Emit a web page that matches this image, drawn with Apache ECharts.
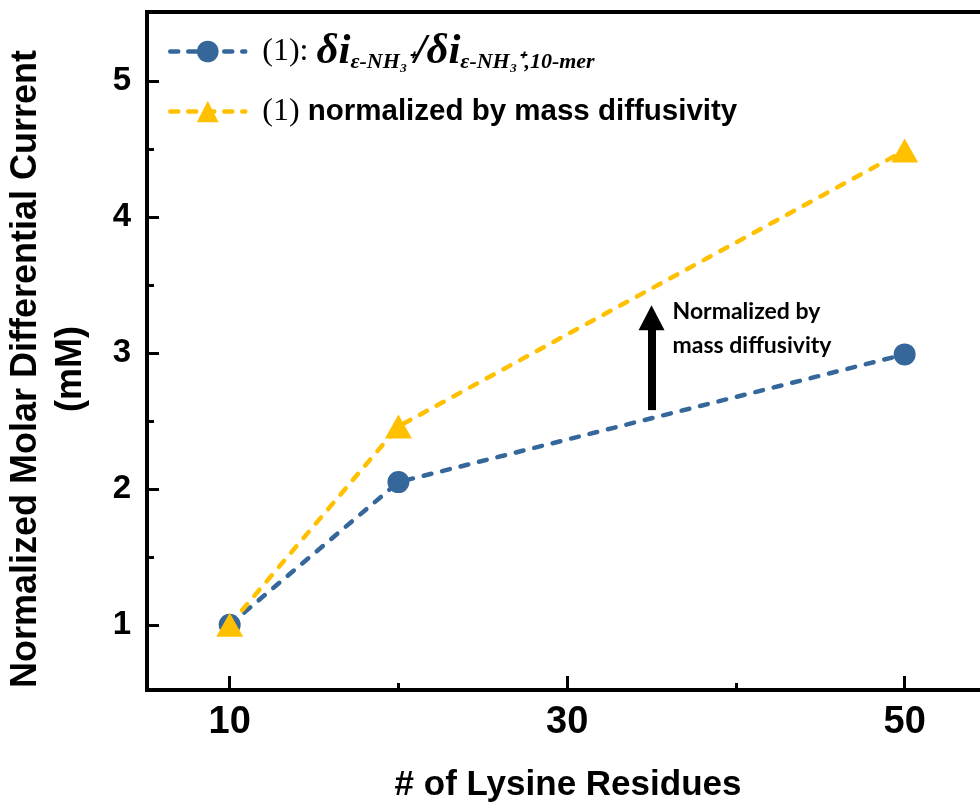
<!DOCTYPE html>
<html><head><meta charset="utf-8">
<script src="https://cdn.jsdelivr.net/npm/echarts@6/dist/echarts.min.js"></script>
<style>html,body{margin:0;padding:0;background:#fff}#c{width:980px;height:811px}</style>
</head><body><div id="c"></div>
<script>
// ---- data ----
const lysineResidues = [10, 20, 50];
const ratioValues = [1.0, 2.05, 2.99];
const normalizedValues = [1.0, 2.46, 4.49];
const xMajorTicks = [10, 30, 50];
const xMinorTicks = [20, 40];
const yMajorTicks = [1, 2, 3, 4, 5];
const yMinorTicks = [1.5, 2.5, 3.5, 4.5];
const seriesNames = ['(1): δi ε-NH3+ / δi ε-NH3+,10-mer', '(1) normalized by mass diffusivity'];
const xTitle = '# of Lysine Residues';
const yTitle = 'Normalized Molar Differential Current\n(mM)';
const arrowNote = 'Normalized by\nmass diffusivity';
const arrowX = 35, arrowFrom = 2.58, arrowTo = 3.26;

const BLUE = '#35679B', GOLD = '#FFC000';
const toPairs = (xs, ys) => xs.map((x, i) => [x, ys[i]]);

const chart = echarts.init(document.getElementById('c'), null, {renderer: 'canvas'});
const xr = {min: 5.1, max: 55};
const yr = {min: 0.52, max: 5.51};
const sans = '"Liberation Sans", Arial, sans-serif';
const serif = '"Liberation Serif", "Times New Roman", serif';

chart.setOption({
  animation: false,
  backgroundColor: '#fff',
  grid: {left: 147, top: 12, width: 842, height: 678, outerBoundsMode: 'none', containLabel: false,
    show: true, borderColor: '#000', borderWidth: 4, backgroundColor: 'transparent'},
  legend: {
    left: 168, top: 30, orient: 'vertical', padding: 0, itemGap: 22,
    itemWidth: 75, itemHeight: 27, selectedMode: false,
    lineStyle: {width: 4.5, type: [8, 10], cap: 'round'},
    data: seriesNames,
    formatter: function (name) {
      if (name === seriesNames[0]) return '{p|(1): }{d|δi}{s|ε-NH₃⁺}{d|/δi}{s|ε-NH₃⁺,10-mer}';
      return '{p|(1)}{b| normalized by mass diffusivity}';
    },
    textStyle: {
      color: '#000', padding: [0, 0, 0, 12],
      rich: {
        p: {fontFamily: serif, fontSize: 32, color: '#000', lineHeight: 44},
        d: {fontFamily: serif, fontSize: 43, fontStyle: 'italic', fontWeight: 'bold', color: '#000', lineHeight: 44},
        s: {fontFamily: serif, fontSize: 22, fontStyle: 'italic', fontWeight: 'bold', color: '#000', lineHeight: 18, verticalAlign: 'bottom'},
        b: {fontFamily: sans, fontSize: 29.5, fontWeight: 'bold', color: '#000', lineHeight: 36}
      }
    }
  },
  xAxis: [{
    type: 'value', min: xr.min, max: xr.max, position: 'bottom',
    axisLine: {show: true, onZero: false, lineStyle: {color: '#000', width: 4}},
    axisTick: {show: true, inside: true, length: 14, customValues: xMajorTicks, lineStyle: {color: '#000', width: 3}},
    axisLabel: {show: true, customValues: xMajorTicks, margin: 14, color: '#000', fontFamily: sans, fontWeight: 'bold', fontSize: 38},
    splitLine: {show: false},
    name: xTitle, nameLocation: 'middle', nameGap: 78,
    nameTextStyle: {color: '#000', fontFamily: sans, fontWeight: 'bold', fontSize: 35}
  }, {
    type: 'value', min: xr.min, max: xr.max, position: 'bottom', gridIndex: 0,
    axisLine: {show: false, onZero: false},
    axisTick: {show: true, inside: true, length: 7, customValues: xMinorTicks, lineStyle: {color: '#000', width: 3}},
    axisLabel: {show: false}, splitLine: {show: false}
  }],
  yAxis: [{
    type: 'value', min: yr.min, max: yr.max, position: 'left',
    axisLine: {show: true, onZero: false, lineStyle: {color: '#000', width: 4}},
    axisTick: {show: true, inside: true, length: 12, customValues: yMajorTicks, lineStyle: {color: '#000', width: 3}},
    axisLabel: {show: true, customValues: yMajorTicks, margin: 16, color: '#000', fontFamily: sans, fontWeight: 'bold', fontSize: 33},
    splitLine: {show: false}
  }, {
    type: 'value', min: yr.min, max: yr.max, position: 'left', gridIndex: 0,
    axisLine: {show: false, onZero: false},
    axisTick: {show: true, inside: true, length: 7, customValues: yMinorTicks, lineStyle: {color: '#000', width: 3}},
    axisLabel: {show: false}, splitLine: {show: false}
  }],
  series: [{
    name: seriesNames[0], type: 'line', xAxisIndex: 0, yAxisIndex: 0,
    data: toPairs(lysineResidues, ratioValues),
    symbol: 'circle', symbolSize: 22,
    itemStyle: {color: BLUE},
    lineStyle: {color: BLUE, width: 4.5, type: [8, 11], cap: 'round'},
    markLine: {
      silent: true, animation: false,
      symbol: ['none', 'triangle'], symbolSize: [26, 25],
      itemStyle: {color: '#000'},
      lineStyle: {color: '#000', width: 8, type: 'solid'},
      label: {show: false},
      emphasis: {disabled: true},
      data: [[{coord: [arrowX, arrowFrom]}, {coord: [arrowX, arrowTo]}]]
    }
  }, {
    name: seriesNames[1], type: 'line', xAxisIndex: 0, yAxisIndex: 0,
    data: toPairs(lysineResidues, normalizedValues),
    symbol: 'triangle', symbolSize: [27, 24],
    itemStyle: {color: GOLD},
    lineStyle: {color: GOLD, width: 4.5, type: [8, 11], cap: 'round'}
  }]
});

const tip = chart.convertToPixel({gridIndex: 0}, [arrowX, arrowTo]);
chart.setOption({
  graphic: [{
    type: 'text', x: 49, y: 369, rotation: Math.PI / 2, silent: true,
    style: {text: yTitle, align: 'center', verticalAlign: 'middle', fill: '#000',
      fontFamily: sans, fontWeight: 'bold', fontSize: 36, lineHeight: 45}
  }, {
    type: 'text', x: tip[0] + 21, y: tip[1] - 23, silent: true,
    style: {text: arrowNote, align: 'left', verticalAlign: 'top', fill: '#000',
      fontFamily: 'Lato, "Open Sans", sans-serif', fontWeight: 'bold', fontSize: 23, lineHeight: 34}
  }]
});
</script></body></html>
